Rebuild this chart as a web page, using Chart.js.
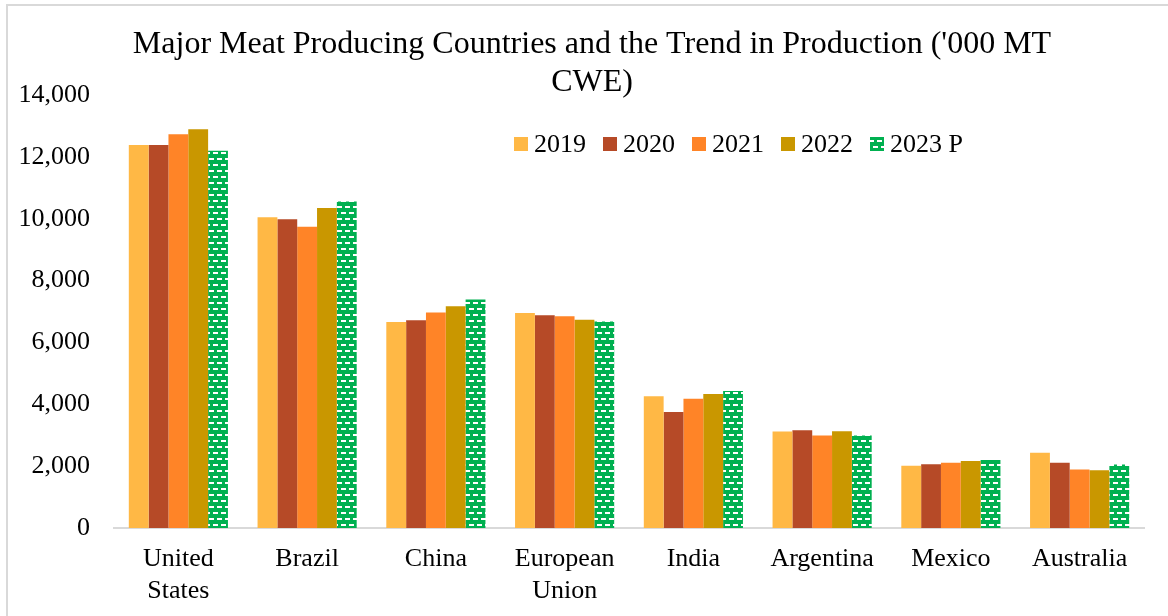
<!DOCTYPE html>
<html>
<head>
<meta charset="utf-8">
<script src="https://cdn.jsdelivr.net/npm/chart.js@4.4.1/dist/chart.umd.min.js"></script>
<style>
  html, body { margin: 0; padding: 0; background: #fff; overflow: hidden; }
  #wrap { position: relative; width: 1168px; height: 616px; }
  #frame { position: absolute; left: 6px; top: 4px; width: 1200px; height: 700px; border: 2px solid #d9d9d9; box-sizing: border-box; }
  #chart { position: absolute; left: 0; top: 0; }
</style>
</head>
<body>
<div id="wrap">
  <div id="frame"></div>
  <canvas id="chart" width="1168" height="616"></canvas>
</div>
<script>
// data ('000 MT CWE)
const countries = [['United', 'States'], 'Brazil', 'China', ['European', 'Union'], 'India', 'Argentina', 'Mexico', 'Australia']
const seriesNames = ['2019', '2020', '2021', '2022', '2023 P']
const y2019 = [12380, 10050, 6660, 6950, 4260, 3120, 2010, 2430]
const y2020 = [12380, 9980, 6720, 6880, 3750, 3160, 2060, 2110]
const y2021 = [12730, 9740, 6970, 6850, 4180, 2990, 2110, 1890]
const y2022 = [12890, 10350, 7170, 6730, 4330, 3130, 2170, 1870]
const y2023 = [12200, 10560, 7390, 6680, 4430, 2990, 2200, 2050]
const yMax = 14000
const yStep = 2000
const titleLines = ["Major Meat Producing Countries and the Trend in Production ('000 MT", 'CWE)']

const FONT = '"Liberation Serif", "Times New Roman", serif'

// green with small white dashes, like the office "dashed" fill
function makePattern() {
  const tile = document.createElement('canvas')
  tile.width = 8
  tile.height = 12
  const c = tile.getContext('2d')
  c.fillStyle = '#00b050'
  c.fillRect(0, 0, 8, 12)
  c.fillStyle = '#ffffff'
  c.fillRect(1, 2, 5, 2)
  c.fillRect(5, 8, 3, 2)
  c.fillRect(0, 8, 2, 2)
  return c.createPattern(tile, 'repeat')
}

const ctx = document.getElementById('chart').getContext('2d')
const greenDash = makePattern()

const colors = ['#ffb845', '#b64a27', '#ff8427', '#c99700', greenDash]
const values = [y2019, y2020, y2021, y2022, y2023]

const titlePlugin = {
  id: 'sheetTitle',
  afterDraw(chart) {
    const c = chart.ctx
    c.save()
    c.fillStyle = '#000'
    c.font = '32px ' + FONT
    c.textAlign = 'center'
    c.textBaseline = 'middle'
    c.fillText(titleLines[0], 592, 45)
    c.fillText(titleLines[1], 592, 83)
    c.restore()
  }
}

const legendPlugin = {
  id: 'innerLegend',
  afterDraw(chart) {
    const c = chart.ctx
    const area = chart.chartArea
    let x = area.left + 400
    const y = 144
    c.save()
    c.font = '26px ' + FONT
    c.textBaseline = 'middle'
    c.textAlign = 'left'
    chart.data.datasets.forEach((ds) => {
      c.fillStyle = ds.backgroundColor
      c.fillRect(x, y - 7, 14, 14)
      c.fillStyle = '#000'
      c.fillText(ds.label, x + 20, y + 1)
      x += 20 + c.measureText(ds.label).width + 17
    })
    c.restore()
  }
}

new Chart(ctx, {
  type: 'bar',
  data: {
    labels: countries,
    datasets: seriesNames.map((name, i) => ({
      label: name,
      data: values[i],
      backgroundColor: colors[i],
      borderWidth: 0,
      categoryPercentage: 0.77,
      barPercentage: 1
    }))
  },
  options: {
    responsive: false,
    animation: false,
    layout: { padding: { left: 0, right: 24, top: 95, bottom: 0 } },
    plugins: {
      legend: { display: false },
      title: { display: false },
      tooltip: { enabled: false }
    },
    scales: {
      x: {
        grid: { display: false },
        border: { color: '#d9d9d9', width: 2 },
        ticks: {
          color: '#000',
          font: { family: FONT, size: 26, lineHeight: 1.2 },
          padding: 8,
          maxRotation: 0
        },
        afterFit(scale) { scale.height = 88 }
      },
      y: {
        min: 0,
        max: yMax,
        grid: { display: false },
        border: { display: false },
        ticks: {
          stepSize: yStep,
          color: '#000',
          font: { family: FONT, size: 26 },
          padding: 16
        },
        afterFit(scale) { scale.width = 114 }
      }
    }
  },
  plugins: [titlePlugin, legendPlugin]
})
</script>
</body>
</html>
